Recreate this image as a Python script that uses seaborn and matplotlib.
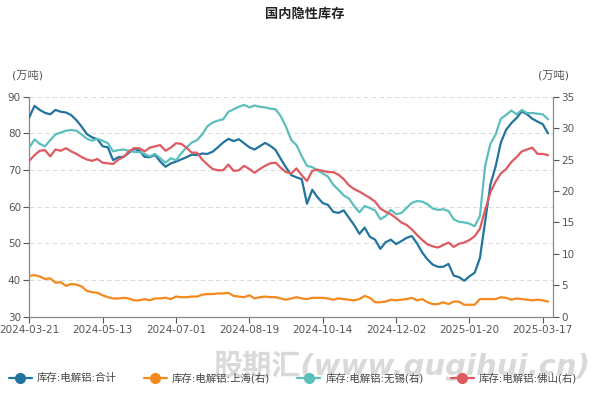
import pandas as pd
import matplotlib
matplotlib.use('Agg')
import matplotlib.pyplot as plt
import seaborn as sns

# tick labels of the category axis (every 14th point)
tick_labels = ['2024-03-21', '2024-05-13', '2024-07-01', '2024-08-19',
               '2024-10-14', '2024-12-02', '2025-01-20', '2025-03-17']
tick_step = 14

# left axis: total
total = [84.4, 87.5, 86.4, 85.6, 85.2, 86.4, 85.9, 85.7, 85.0, 83.6,
         81.8, 79.8, 78.9, 78.4, 76.5, 76.2, 72.7, 73.5, 73.6, 74.7,
         75.8, 75.3, 73.6, 73.5, 74.1, 72.3, 70.9, 71.8, 72.3, 72.9,
         73.5, 74.2, 74.1, 74.5, 74.4, 75.0, 76.2, 77.5, 78.5, 77.9,
         78.4, 77.3, 76.2, 75.6, 76.5, 77.4, 76.6, 75.5, 73.0, 70.7,
         68.6, 68.0, 67.5, 60.8, 64.6, 62.6, 61.0, 60.5, 58.6, 58.3,
         59.0, 57.0, 55.0, 52.6, 54.3, 51.8, 51.0, 48.5, 50.3, 51.0,
         49.8, 50.6, 51.5, 52.0, 50.0, 47.5, 45.6, 44.2, 43.6, 43.6,
         44.4, 41.2, 40.8, 39.8, 41.0, 42.0, 46.0, 56.0, 66.0, 71.0,
         77.5, 81.0, 82.8, 84.2, 86.0, 85.2, 84.0, 83.2, 82.5, 80.0]

# right axis: Shanghai, Wuxi, Foshan
shanghai = [6.5, 6.6, 6.4, 6.0, 6.1, 5.4, 5.5, 4.9, 5.2, 5.1,
            4.8, 4.1, 3.9, 3.8, 3.4, 3.1, 2.9, 2.9, 3.0, 2.9,
            2.6, 2.6, 2.8, 2.6, 2.9, 2.9, 3.0, 2.8, 3.2, 3.1,
            3.1, 3.2, 3.2, 3.5, 3.6, 3.6, 3.7, 3.7, 3.8, 3.3,
            3.2, 3.1, 3.4, 2.9, 3.1, 3.2, 3.1, 3.1, 2.9, 2.7,
            2.9, 3.1, 2.9, 2.8, 3.0, 3.0, 3.0, 2.9, 2.7, 2.9,
            2.8, 2.7, 2.6, 2.8, 3.3, 3.0, 2.3, 2.3, 2.4, 2.7,
            2.6, 2.7, 2.8, 3.0, 2.6, 2.8, 2.3, 2.0, 2.0, 2.3,
            2.0, 2.4, 2.4, 1.9, 1.9, 1.9, 2.8, 2.8, 2.8, 2.8,
            3.1, 3.0, 2.7, 2.9, 2.8, 2.7, 2.6, 2.7, 2.6, 2.4]

wuxi = [26.9, 28.2, 27.5, 27.1, 28.1, 29.0, 29.3, 29.6, 29.7, 29.6,
        29.0, 28.3, 28.0, 28.3, 28.0, 27.6, 26.3, 26.5, 26.6, 26.4,
        26.2, 26.2, 25.9, 25.5, 25.9, 25.2, 24.5, 25.2, 24.9, 26.0,
        26.9, 27.7, 28.1, 29.0, 30.3, 30.9, 31.2, 31.4, 32.6, 33.0,
        33.4, 33.7, 33.3, 33.6, 33.4, 33.3, 33.1, 33.0, 31.9, 30.2,
        28.1, 27.3, 25.5, 24.0, 23.8, 23.3, 22.8, 22.3, 21.0, 20.2,
        19.3, 18.8, 17.6, 16.6, 17.6, 17.3, 16.9, 15.5, 16.0, 17.0,
        16.3, 16.5, 17.3, 18.1, 18.4, 18.3, 17.9, 17.2, 17.0, 17.1,
        16.8, 15.5, 15.1, 15.0, 14.8, 14.4, 16.0, 24.0, 27.5, 29.0,
        31.5, 32.1, 32.8, 32.2, 32.9, 32.4, 32.4, 32.3, 32.2, 31.4]

foshan = [24.8, 25.7, 26.4, 26.5, 25.5, 26.6, 26.4, 26.8, 26.3, 25.9,
          25.4, 25.0, 24.8, 25.1, 24.5, 24.4, 24.3, 25.0, 25.4, 26.3,
          26.8, 26.8, 26.3, 26.9, 27.1, 27.3, 26.4, 26.9, 27.6, 27.5,
          26.9, 26.1, 26.1, 25.0, 24.2, 23.5, 23.3, 23.3, 24.2, 23.2,
          23.3, 24.0, 23.5, 22.9, 23.5, 24.0, 24.4, 24.5, 23.7, 23.0,
          22.8, 23.6, 22.5, 21.6, 23.2, 23.4, 23.2, 23.0, 23.0, 22.6,
          21.9, 20.9, 20.3, 19.9, 19.4, 18.9, 18.3, 17.2, 16.7, 16.3,
          15.7, 15.0, 14.6, 13.9, 13.0, 12.2, 11.5, 11.2, 11.0, 11.4,
          11.8, 11.1, 11.6, 11.8, 12.2, 12.8, 14.0, 17.0, 19.8, 21.5,
          22.8, 23.5, 24.6, 25.4, 26.3, 26.6, 26.9, 25.9, 25.9, 25.7]

names = ['库存:电解铝:合计', '库存:电解铝:上海(右)', '库存:电解铝:无锡(右)', '库存:电解铝:佛山(右)']
colors = ['#23739f', '#f4891e', '#5cbfbd', '#df5a60']

df = pd.DataFrame({'idx': range(len(total)), 'total': total, 'shanghai': shanghai,
                   'wuxi': wuxi, 'foshan': foshan})

sns.set_style('white')
plt.rcParams['font.family'] = ['DejaVu Sans', 'Noto Sans CJK SC']
plt.rcParams['axes.unicode_minus'] = False

fig = plt.figure(figsize=(6.1, 3.97), dpi=100)
ax = fig.add_axes([0.048, 0.2023, 0.859, 0.5541])
ax2 = ax.twinx()

sns.lineplot(x='idx', y='total', data=df, ax=ax, color=colors[0], lw=1.6, zorder=5)
sns.lineplot(x='idx', y='shanghai', data=df, ax=ax2, color=colors[1], lw=1.6)
sns.lineplot(x='idx', y='wuxi', data=df, ax=ax2, color=colors[2], lw=1.6)
sns.lineplot(x='idx', y='foshan', data=df, ax=ax2, color=colors[3], lw=1.6)

ax.set_ylim(30, 90)
ax2.set_ylim(0, 35)
ax.set_xlim(0, len(total))
ax.set_yticks(range(30, 91, 10))
ax2.set_yticks(range(0, 36, 5))
ax.set_xticks([i * tick_step for i in range(len(tick_labels))])
ax.set_xticklabels(tick_labels)
ax.set_xlabel('')
ax.set_ylabel('')
ax2.set_ylabel('')

ax.grid(axis='y', linestyle=(0, (4, 3)), color='#dddddd', lw=0.8)
ax.set_axisbelow(True)
for a in (ax, ax2):
    for s in a.spines.values():
        s.set_visible(False)
    a.tick_params(labelsize=7.5, colors='#555555', length=4, width=0.8, direction='out')
ax.spines['left'].set_visible(True)
ax.spines['bottom'].set_visible(True)
ax2.spines['right'].set_visible(True)
for s in (ax.spines['left'], ax.spines['bottom'], ax2.spines['right']):
    s.set_color('#888888')
    s.set_linewidth(0.9)
ax.tick_params(axis='y', left=True, pad=2)
ax.tick_params(axis='x', bottom=True, pad=2)
ax2.tick_params(axis='y', right=True, pad=2)

fig.text(0.5, 0.965, '国内隐性库存', ha='center', va='center', fontsize=9.5,
         fontweight='bold', color='#222222')
fig.text(0.02, 0.81, '(万吨)', ha='left', va='center', fontsize=8, color='#555555')
fig.text(0.907, 0.81, '(万吨)', ha='center', va='center', fontsize=8, color='#555555')

# watermark
fig.text(0.967, 0.078, '股期汇(www.qugihui.cn)', ha='right', va='center', fontsize=21,
         fontweight='bold', style='italic', color='#d0d0d0', alpha=0.8, zorder=0)

handles = [plt.Line2D([], [], color=c, lw=1.6, marker='o', markersize=7) for c in colors]
fig.legend(handles, names, loc='center', bbox_to_anchor=(0.48, 0.048), ncol=4,
           frameon=False, fontsize=7.5, handlelength=2.2, handletextpad=0.5,
           columnspacing=2.6, labelcolor='#444444')

fig.savefig('out.png', dpi=100)
